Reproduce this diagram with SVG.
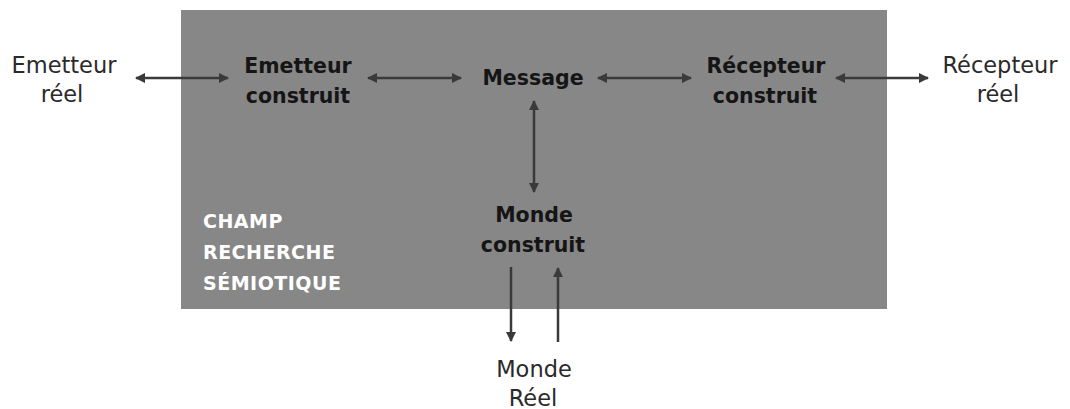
<svg xmlns="http://www.w3.org/2000/svg" width="1070" height="409" viewBox="0 0 1070 409">
<style>
.reg{font-family:"DejaVu Sans",sans-serif;font-size:22.5px;fill:#2a2a2a;text-anchor:middle}
.bold{font-family:"DejaVu Sans",sans-serif;font-weight:bold;font-size:20.5px;fill:#151515;text-anchor:middle}
.field{font-family:"DejaVu Sans",sans-serif;font-weight:bold;font-size:19px;fill:#ffffff;letter-spacing:0.5px}
.ln{stroke:#3a3a3a;stroke-width:2.5;fill:none}
</style>
<defs>
<marker id="ah" viewBox="0 0 10 10" refX="9" refY="5" markerWidth="4.2" markerHeight="4.2" orient="auto-start-reverse" markerUnits="strokeWidth">
<path d="M0,0 L10,5 L0,10 z" fill="#3a3a3a"/>
</marker>
</defs>
<rect id="champ" x="181" y="10" width="706" height="299" fill="#878787"/>
<g id="connectors">
<line class="ln" x1="136" y1="78" x2="228" y2="78" marker-start="url(#ah)" marker-end="url(#ah)"/>
<line class="ln" x1="368" y1="78" x2="461" y2="78" marker-start="url(#ah)" marker-end="url(#ah)"/>
<line class="ln" x1="598" y1="78" x2="691" y2="78" marker-start="url(#ah)" marker-end="url(#ah)"/>
<line class="ln" x1="836" y1="78" x2="928" y2="78" marker-start="url(#ah)" marker-end="url(#ah)"/>
<line class="ln" x1="534" y1="101" x2="534" y2="192" marker-start="url(#ah)" marker-end="url(#ah)"/>
<line class="ln" x1="511" y1="267" x2="511" y2="341" marker-end="url(#ah)"/>
<line class="ln" x1="558" y1="342" x2="558" y2="268" marker-end="url(#ah)"/>
</g>
<g id="emetteur-reel"><text class="reg" x="64" y="73">Emetteur</text><text class="reg" x="62" y="102">réel</text></g>
<g id="emetteur-construit"><text class="bold" x="298" y="73">Emetteur</text><text class="bold" x="298" y="103">construit</text></g>
<g id="message"><text class="bold" x="533" y="85">Message</text></g>
<g id="recepteur-construit"><text class="bold" x="766" y="73">Récepteur</text><text class="bold" x="765" y="103">construit</text></g>
<g id="recepteur-reel"><text class="reg" x="1000" y="73">Récepteur</text><text class="reg" x="998" y="102">réel</text></g>
<g id="monde-construit"><text class="bold" x="534" y="222">Monde</text><text class="bold" x="533" y="252">construit</text></g>
<g id="monde-reel"><text class="reg" x="534" y="377">Monde</text><text class="reg" x="533" y="406">Réel</text></g>
<g id="label-champ"><text class="field" x="203" y="228">CHAMP</text><text class="field" x="203" y="259">RECHERCHE</text><text class="field" x="203" y="290">SÉMIOTIQUE</text></g>
</svg>
